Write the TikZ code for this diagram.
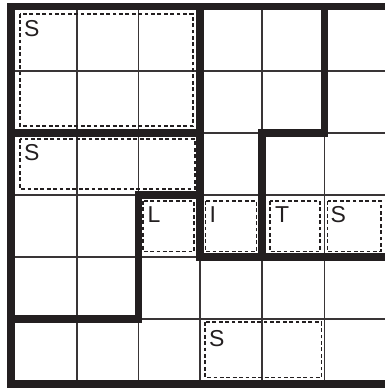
\documentclass[tikz,border=0pt]{standalone}
\usepackage{fontspec}
\setmainfont{Liberation Sans}
\definecolor{ink}{HTML}{231F20}
\begin{document}
\begin{tikzpicture}[x=1pt,y=-1pt,
  thin/.style={draw=ink!90,line width=1.5pt},
  thick/.style={draw=ink,line width=7.5pt,line cap=rect,line join=miter},
  dashbox/.style={draw=ink,line width=1.6pt,dash pattern=on 3.8pt off 2.6pt},
  lbl/.style={anchor=base west,inner sep=0pt,font=\fontsize{23}{23}\selectfont,text=ink}]
\useasboundingbox (0,0) rectangle (385,388);
\fill[white] (0,0) rectangle (385,388);
% thin grid
\foreach \x in {77,138.5,200,262,324.5} \draw[thin] (\x,6) -- (\x,384);
\foreach \y in {71,133,195,257,319} \draw[thin] (11,\y) -- (385,\y);
% dashed boxes
\draw[dashbox] (20,14) rectangle (193,126);
\draw[dashbox] (20,139) rectangle (195,189);
\draw[dashbox] (143,201) rectangle (194,251.5);
\draw[dashbox] (205.5,201) rectangle (256.5,251.5);
\draw[dashbox] (270,201) rectangle (320,251.5);
\draw[dashbox] (327.5,201) rectangle (381,251.5);
\draw[dashbox] (205,322) rectangle (321.5,377.5);
% thick region borders
\draw[thick] (390,6.5) -- (11,6.5) -- (11,384) -- (390,384);
\draw[thick] (200,6.5) -- (200,257) -- (390,257);
\draw[thick] (11,133) -- (200,133);
\draw[thick] (324.5,6.5) -- (324.5,133) -- (262,133) -- (262,257);
\draw[thick] (200,195) -- (138.5,195) -- (138.5,319) -- (11,319);
% labels
\node[lbl] (s1) at (24,36) {S};
\node[lbl] (s2) at (24,160.5) {S};
\node[lbl] (l) at (147.5,222.5) {L};
\node[lbl] (i) at (209.5,222.5) {I};
\node[lbl] (t) at (275,222.5) {T};
\node[lbl] (s3) at (330.5,222.5) {S};
\node[lbl] (s4) at (209,346.5) {S};
\end{tikzpicture}
\end{document}
